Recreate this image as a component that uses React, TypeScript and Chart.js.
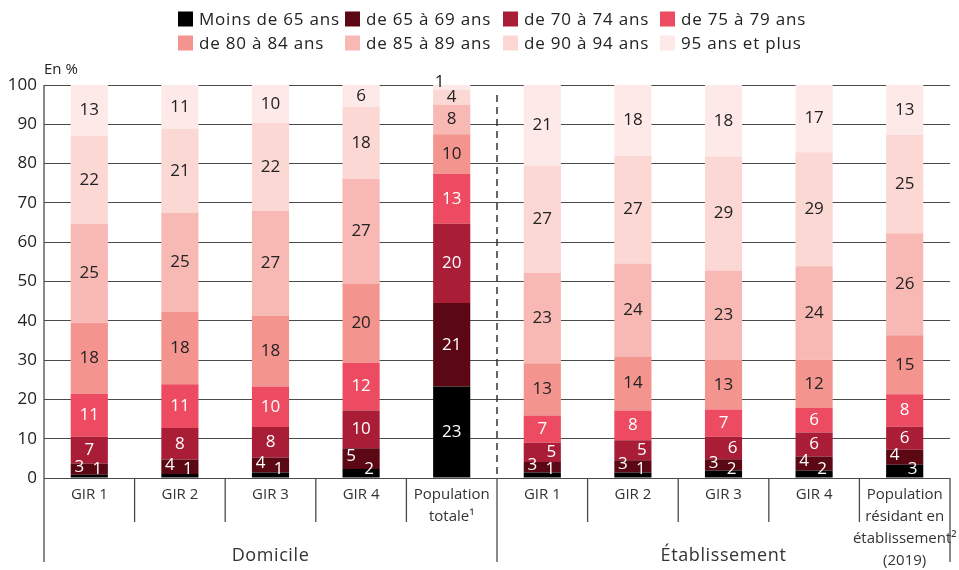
import { useEffect, useRef } from "react";
import { Chart, registerables } from "chart.js";
Chart.register(...registerables);

const categories: string[][] = [
  ["GIR 1"], ["GIR 2"], ["GIR 3"], ["GIR 4"], ["Population", "totale¹"],
  ["GIR 1"], ["GIR 2"], ["GIR 3"], ["GIR 4"], ["Population", "résidant en", "établissement²", "(2019)"],
];
const groups = ["Domicile", "Établissement"];
const groupSizes = [5, 5];
const seriesNames = [
  "Moins de 65 ans", "de 65 à 69 ans", "de 70 à 74 ans", "de 75 à 79 ans",
  "de 80 à 84 ans", "de 85 à 89 ans", "de 90 à 94 ans", "95 ans et plus",
];
const seriesColors = ["#000000", "#5c0714", "#aa1d37", "#ec4b61", "#f3948f", "#f8b9b5", "#fbd8d3", "#fdeae8"];

const moins65 = [0.8, 1.0, 1.4, 2.3, 23.3, 1.4, 1.4, 1.9, 1.9, 3.4];
const de65a69 = [2.9, 3.7, 3.8, 5.3, 21.2, 2.7, 3.1, 2.85, 3.6, 3.8];
const de70a74 = [6.8, 8.05, 7.8, 9.6, 20.2, 4.9, 5.1, 5.75, 6.1, 5.85];
const de75a79 = [10.9, 11.1, 10.3, 12.1, 12.7, 6.9, 7.6, 6.9, 6.2, 8.25];
const de80a84 = [18.1, 18.4, 18.0, 20.2, 10.1, 13.3, 13.7, 12.6, 12.3, 15.0];
const de85a89 = [25.2, 25.2, 26.7, 26.6, 7.5, 23.0, 23.7, 22.8, 23.8, 26.0];
const de90a94 = [22.3, 21.4, 22.4, 18.3, 3.8, 27.2, 27.4, 29.0, 29.0, 25.0];
const plus95 = [13.0, 11.15, 9.6, 5.6, 1.2, 20.6, 18.0, 18.2, 17.1, 12.7];
const seriesValues = [moins65, de65a69, de70a74, de75a79, de80a84, de85a89, de90a94, plus95];

const yMin = 0;
const yMax = 100;
const yStep = 10;
const yTitle = "En %";

const FONT = "'Open Sans', 'DejaVu Sans', sans-serif";
const TEXT = "#222222";
const LINE = "#4a4a4a";

const decorPlugin = {
  id: "decor",
  afterDraw(chart: any) {
    const ctx = chart.ctx;
    const area = chart.chartArea;
    const xs = chart.scales.x;
    const bottomExt = area.bottom + 84;
    const innerExt = area.bottom + 44;
    ctx.save();
    // y title
    ctx.fillStyle = TEXT;
    ctx.font = `15px ${FONT}`;
    ctx.textAlign = "left";
    ctx.textBaseline = "middle";
    ctx.fillText(yTitle, area.left, 70);

    // legend
    const cols = [178, 345, 503, 660];
    const rows = [19, 43];
    ctx.font = `17px ${FONT}`;
    (ctx as any).letterSpacing = "0.8px";
    seriesNames.forEach((name, i) => {
      const cx = cols[i % 4];
      const cy = rows[Math.floor(i / 4)];
      ctx.fillStyle = seriesColors[i];
      ctx.fillRect(cx, cy - 7.5, 15, 15);
      ctx.fillStyle = TEXT;
      ctx.textAlign = "left";
      ctx.textBaseline = "middle";
      ctx.fillText(name, cx + 21, cy + 1);
    });
    (ctx as any).letterSpacing = "0px";

    // lines
    ctx.strokeStyle = LINE;
    ctx.lineWidth = 1.3;
    const n = categories.length;
    const half = (xs.getPixelForValue(1) - xs.getPixelForValue(0)) / 2;
    const bounds: number[] = [];
    for (let i = 0; i <= n; i++) {
      bounds.push(i < n ? xs.getPixelForValue(i) - half : xs.getPixelForValue(n - 1) + half);
    }
    const groupBounds = new Set<number>();
    let acc = 0;
    groupBounds.add(0);
    groupSizes.forEach((g) => { acc += g; groupBounds.add(acc); });

    bounds.forEach((bx, i) => {
      ctx.beginPath();
      if (groupBounds.has(i)) {
        if (i === 0) {
          ctx.moveTo(bx, area.top);
          ctx.lineTo(bx, bottomExt);
        } else if (i === n) {
          ctx.moveTo(bx, area.bottom);
          ctx.lineTo(bx, bottomExt);
        } else {
          ctx.stroke();
          ctx.beginPath();
          ctx.strokeStyle = "#333333";
          ctx.lineWidth = 1.5;
          ctx.setLineDash([7, 5]);
          ctx.moveTo(bx, area.top + 10);
          ctx.lineTo(bx, area.bottom);
          ctx.stroke();
          ctx.setLineDash([]);
          ctx.strokeStyle = LINE;
          ctx.lineWidth = 1.3;
          ctx.beginPath();
          ctx.moveTo(bx, area.bottom);
          ctx.lineTo(bx, bottomExt);
        }
      } else {
        ctx.moveTo(bx, area.bottom);
        ctx.lineTo(bx, innerExt);
      }
      ctx.stroke();
    });

    // group labels
    ctx.fillStyle = "#333333";
    ctx.font = `18px ${FONT}`;
    (ctx as any).letterSpacing = "0.6px";
    ctx.textAlign = "center";
    ctx.textBaseline = "middle";
    let start = 0;
    groups.forEach((g, gi) => {
      const end = start + groupSizes[gi];
      const mid = (bounds[start] + bounds[end]) / 2;
      ctx.fillText(g, mid, area.bottom + 78);
      start = end;
    });
    (ctx as any).letterSpacing = "0px";
    ctx.restore();
  },
  afterDatasetsDraw(chart: any) {
    const ctx = chart.ctx;
    ctx.save();
    ctx.font = `17px ${FONT}`;
    ctx.textAlign = "center";
    ctx.textBaseline = "middle";
    chart.data.datasets.forEach((ds: any, di: number) => {
      const meta = chart.getDatasetMeta(di);
      meta.data.forEach((el: any, i: number) => {
        const v = ds.data[i];
        const top = Math.min(el.y, el.base);
        const bot = Math.max(el.y, el.base);
        let cx = el.x;
        let cy = (top + bot) / 2;
        if (di === 0 && v < 5) { cx = el.x + 8; cy = bot - 8; }
        if (di === 1 && v < 6) { cx = el.x - 10; cy = cy - 2; }
        if (di === 2 && v < 5.8) { cx = el.x + 9; }
        if (di === 7 && v < 2) { cx = el.x - 12; cy = top - 3; }
        ctx.fillStyle = di < 4 ? "#ffffff" : TEXT;
        ctx.fillText(String(Math.round(v)), cx, cy);
      });
    });
    ctx.restore();
  },
};

export default function App() {
  const ref = useRef<HTMLCanvasElement>(null);
  useEffect(() => {
    if (!ref.current) return;
    const chart = new Chart(ref.current, {
      type: "bar",
      data: {
        labels: categories as any,
        datasets: seriesNames.map((name, i) => ({
          label: name,
          data: seriesValues[i],
          backgroundColor: seriesColors[i],
          borderWidth: 0,
          barPercentage: 0.41,
          categoryPercentage: 1,
        })),
      },
      options: {
        responsive: false,
        animation: false,
        layout: { padding: { top: 85, right: 9, left: 0, bottom: 0 } },
        plugins: { legend: { display: false }, tooltip: { enabled: false }, title: { display: false } },
        scales: {
          x: {
            stacked: true,
            grid: { display: false },
            border: { display: false },
            ticks: {
              autoSkip: false,
              maxRotation: 0,
              minRotation: 0,
              padding: -2,
              color: "#333333",
              font: { family: FONT, size: 15, lineHeight: "22px" } as any,
            },
            afterFit: (s: any) => { s.height = 92; },
          },
          y: {
            stacked: true,
            min: yMin,
            max: yMax,
            ticks: {
              stepSize: yStep,
              padding: 7,
              color: TEXT,
              font: { family: FONT, size: 17 },
            },
            grid: { color: LINE, lineWidth: 1, drawTicks: false },
            border: { display: false },
            afterFit: (s: any) => { s.width = 44; },
          },
        },
      },
      plugins: [decorPlugin],
    });
    return () => chart.destroy();
  }, []);
  return (
    <div style={{ position: "absolute", left: 0, top: 0, width: 959, height: 570, background: "#fff" }}>
      <canvas ref={ref} width={959} height={570} />
    </div>
  );
}
